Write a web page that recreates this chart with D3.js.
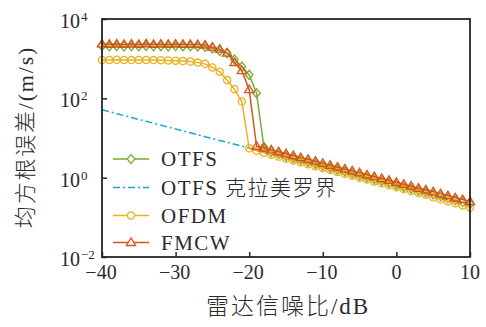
<!DOCTYPE html>
<html><head><meta charset="utf-8">
<script src="https://cdn.jsdelivr.net/npm/d3@7"></script>
<style>body{margin:0;background:#fff;}svg{display:block;}</style>
</head><body>
<svg id="c" width="486" height="327"></svg>
<script>
const snr = d3.range(-40, 11, 1);
const otfs = [2100,2060,2090,2050,2080,2070,2100,2060,2080,2050,2090,2070,2060,2040,
  2000,1820,1580,1380,950,630,390,135,5.9,4.5,3.95,3.5,3.12,2.8,2.5,2.24,2.0,1.79,1.6,1.44,1.29,1.15,1.03,0.92,0.83,0.74,0.66,0.59,0.53,0.475,0.425,0.38,0.34,0.305,0.272,0.244,0.218];
const crb = [51.3,45.9,41.1,36.8,32.9,29.4,26.4,23.6,21.1,18.9,16.9,15.1,13.5,12.1,10.8,9.7,8.68,7.77,6.96,6.23,5.57,4.99,4.46,4.0,3.57,3.2,2.86,2.56,2.29,2.05,1.84,1.64,1.47,1.32,1.18,1.05,0.944,0.845,0.756,0.676,0.605,0.542,0.485,0.434,0.388,0.348,0.311,0.278,0.249,0.223,0.2];
const ofdm = [930,925,935,930,920,930,925,920,915,905,890,870,850,795,740,600,470,290,170,83,5.5,
  4.75,4.25,3.8,3.4,3.04,2.72,2.43,2.18,1.95,1.75,1.56,1.4,1.25,1.12,1.0,0.9,0.8,0.72,0.64,0.575,0.515,0.46,0.41,0.37,0.32,0.285,0.255,0.226,0.2,0.178];
const fmcw = [2350,2300,2340,2280,2330,2290,2350,2300,2320,2280,2330,2300,2280,2260,
  2210,1950,1740,1380,800,500,165,6.2,5.6,5.0,4.5,4.0,3.6,3.2,2.9,2.6,2.3,2.05,1.84,1.65,1.48,1.32,1.18,1.06,0.95,0.85,0.76,0.68,0.61,0.54,0.49,0.44,0.39,0.35,0.31,0.28,0.25];
const xTicks = [-40,-30,-20,-10,0,10];
const yExps = [-2,0,2,4];
const legendLabels = ["OTFS","OTFS 克拉美罗界","OFDM","FMCW"];
const xLabel = "雷达信噪比/dB";
const yLabel = "均方根误差/(m/s)";

const L=102,R=470,T=19,B=257;
const svg = d3.select("#c");
const x = d3.scaleLinear().domain([-40,10]).range([L,R]);
const y = d3.scaleLog().domain([1e-2,1e4]).range([B,T]);
const serif = "'Liberation Serif','Times New Roman',serif";
const cjk = "'Liberation Serif','Noto Sans CJK SC',serif";
const txt = "#2a2a2a";

const series = [
  {name:legendLabels[0], data:otfs, color:"#77AC30", marker:"diamond"},
  {name:legendLabels[1], data:crb, color:"#1AA6D1", marker:null, dash:"7,3,2,3"},
  {name:legendLabels[2], data:ofdm, color:"#EDB120", marker:"circle"},
  {name:legendLabels[3], data:fmcw, color:"#D95319", marker:"triangle"}
];
const markerPath = {
  diamond: "M0,-4.6L3.8,0L0,4.6L-3.8,0Z",
  circle: d3.symbol(d3.symbolCircle, Math.PI*3.6*3.6)(),
  triangle: "M0,-4.6L4.6,3L-4.6,3Z"
};
const g = svg.append("g");
const line = d3.line().x((d,i)=>x(snr[i])).y(d=>y(d));
series.forEach(s=>{
  g.append("path").attr("d", line(s.data)).attr("fill","none").attr("stroke",s.color)
   .attr("stroke-width",1.5).attr("stroke-dasharray", s.dash||null);
  if(s.marker){
    g.selectAll(null).data(s.data).join("path").attr("d",markerPath[s.marker])
     .attr("transform",(d,i)=>`translate(${x(snr[i])},${y(d)})`)
     .attr("fill","none").attr("stroke",s.color).attr("stroke-width",1.3);
  }
});

// axes
const xAxis = d3.axisBottom(x).tickValues(xTicks).tickSize(-5).tickFormat("");
svg.append("g").attr("transform",`translate(0,${B})`).call(xAxis)
  .call(a=>{a.select(".domain").remove(); a.selectAll("line").attr("stroke","#262626").attr("stroke-width",1.5);});
const yAxis = d3.axisLeft(y).tickValues(yExps.map(e=>Math.pow(10,e))).tickSize(-5).tickFormat("");
svg.append("g").attr("transform",`translate(${L},0)`).call(yAxis)
  .call(a=>{a.select(".domain").remove(); a.selectAll("line").attr("stroke","#262626").attr("stroke-width",1.5);});
svg.append("rect").attr("x",L).attr("y",T).attr("width",R-L).attr("height",B-T)
  .attr("fill","none").attr("stroke","#262626").attr("stroke-width",1.8);

xTicks.forEach(t=>{
  svg.append("text").attr("x",x(t)+(t<0?-1:0)).attr("y",279).attr("text-anchor","middle")
    .attr("font-family",serif).attr("font-size",20).attr("fill",txt)
    .text(t<0?"\u2212"+Math.abs(t):String(t));
});
yExps.forEach(e=>{
  const yy=y(Math.pow(10,e));
  svg.append("text").attr("x",80).attr("y",yy+9).attr("text-anchor","end")
    .attr("font-family",serif).attr("font-size",20).attr("fill",txt).text("10");
  svg.append("text").attr("x",81).attr("y",yy+2).attr("text-anchor","start")
    .attr("font-family",serif).attr("font-size",13).attr("fill",txt)
    .text(e<0?"\u2212"+Math.abs(e):String(e));
});
svg.append("text").attr("x",288).attr("y",314).attr("text-anchor","middle")
  .attr("font-family",cjk).attr("font-size",23).attr("font-weight",300).attr("letter-spacing",2).attr("fill",txt).text(xLabel);
svg.append("text").attr("transform","translate(33,137) rotate(-90)").attr("text-anchor","middle")
  .attr("font-family",cjk).attr("font-size",22).attr("font-weight",300).attr("letter-spacing",1.8).attr("fill",txt).text(yLabel);

// legend
const rows=[159,187.5,215.5,242.5];
series.forEach((s,i)=>{
  const ry=rows[i];
  svg.append("line").attr("x1",113).attr("x2",149).attr("y1",ry).attr("y2",ry)
    .attr("stroke",s.color).attr("stroke-width",1.5).attr("stroke-dasharray",s.dash||null);
  if(s.marker) svg.append("path").attr("d",markerPath[s.marker]).attr("transform",`translate(131,${ry})`)
    .attr("fill","#fff").attr("stroke",s.color).attr("stroke-width",1.3);
  svg.append("text").attr("x",161).attr("y",ry+7).attr("font-family",cjk).attr("font-size",21)
    .attr("font-weight",300).attr("letter-spacing",1.5).attr("fill",txt).text(s.name);
});
</script>
</body></html>
